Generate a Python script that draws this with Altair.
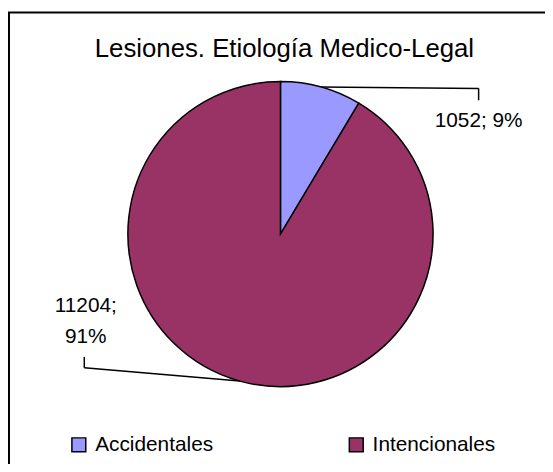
import altair as alt
import pandas as pd

# ---- data ----
categories = ["Accidentales", "Intencionales"]
values = [1052, 11204]
colors = ["#9999FF", "#993366"]
title_text = "Lesiones. Etiología Medico-Legal"

total = sum(values)
labels = [f"{v}; {round(100 * v / total)}%" for v in values]
labels[1] = labels[1].replace("; ", ";\n")  # wrapped as in the reference

# ---- layout (chart pixel space) ----
W, H = 542, 458
CX, CY, R = 275, 226, 154
FONT = "Liberation Sans"
LAYOUT = {
    "Accidentales": dict(ex=475, ey=79, tx=475, ty=91, lx=475, ly=118),
    "Intencionales": dict(ex=77, ey=361, tx=77, ty=350, lx=78.5, ly=305),
}

df = pd.DataFrame({
    "category": categories,
    "value": values,
    "order": list(range(len(categories))),
    "label": labels,
})
for k in ["ex", "ey", "tx", "ty", "lx", "ly"]:
    df[k] = [LAYOUT[c][k] for c in categories]

color = alt.Color(
    "category:N",
    scale=alt.Scale(domain=categories, range=colors),
    legend=alt.Legend(
        orient="none", legendX=61, legendY=428, direction="horizontal",
        title=None, symbolType="square", symbolSize=196,
        symbolStrokeColor="black", symbolStrokeWidth=1.5, symbolOpacity=1,
        labelFontSize=21, labelFont=FONT, labelColor="black",
        columnPadding=133, labelOffset=6,
    ),
)

pie = alt.Chart(df).mark_arc(outerRadius=R, stroke="black", strokeWidth=1.5, opacity=1).encode(
    theta=alt.Theta("value:Q", stack=True),
    color=color,
    order=alt.Order("order:Q"),
    x=alt.value(CX),
    y=alt.value(CY),
)

base = alt.Chart(df).transform_window(
    cum="sum(value)", sort=[alt.SortField("order")], frame=[None, 0]
).transform_joinaggregate(tot="sum(value)").transform_calculate(
    mid="(datum.cum - datum.value / 2) / datum.tot",
).transform_calculate(
    sx=f"{CX} + {R} * sin(2 * PI * datum.mid)",
    sy=f"{CY} - {R} * cos(2 * PI * datum.mid)",
)

seg1 = base.mark_rule(color="black", strokeWidth=1.5).encode(
    x=alt.X("sx:Q", scale=None, axis=None),
    y=alt.Y("sy:Q", scale=None, axis=None),
    x2="ex:Q", y2="ey:Q",
)
seg2 = base.mark_rule(color="black", strokeWidth=1.5).encode(
    x=alt.X("ex:Q", scale=None, axis=None),
    y=alt.Y("ey:Q", scale=None, axis=None),
    x2="tx:Q", y2="ty:Q",
)
txt = alt.Chart(df).mark_text(
    font=FONT, fontSize=21, color="black", align="center",
    baseline="alphabetic", lineBreak="\n", lineHeight=31,
).encode(
    x=alt.X("lx:Q", scale=None, axis=None),
    y=alt.Y("ly:Q", scale=None, axis=None),
    text="label:N",
)

title = alt.Chart(pd.DataFrame({"t": [title_text]})).mark_text(
    font=FONT, fontSize=26, color="black", align="center", baseline="alphabetic",
).encode(x=alt.value(279), y=alt.value(47), text="t:N")

border_top = alt.Chart(pd.DataFrame({"a": [0]})).mark_rule(color="black", strokeWidth=2).encode(
    x=alt.value(0), x2=alt.value(W), y=alt.value(2.5)
)
border_left = alt.Chart(pd.DataFrame({"a": [0]})).mark_rule(color="black", strokeWidth=2).encode(
    x=alt.value(1), y=alt.value(2), y2=alt.value(H)
)

chart = alt.layer(pie, seg1, seg2, txt, title, border_top, border_left).properties(
    width=W, height=H, padding=0,
    autosize=alt.AutoSizeParams(type="none"),
    background="white",
).configure_view(stroke=None)

chart.save("out.html", embed_options={"renderer": "svg", "actions": False})
